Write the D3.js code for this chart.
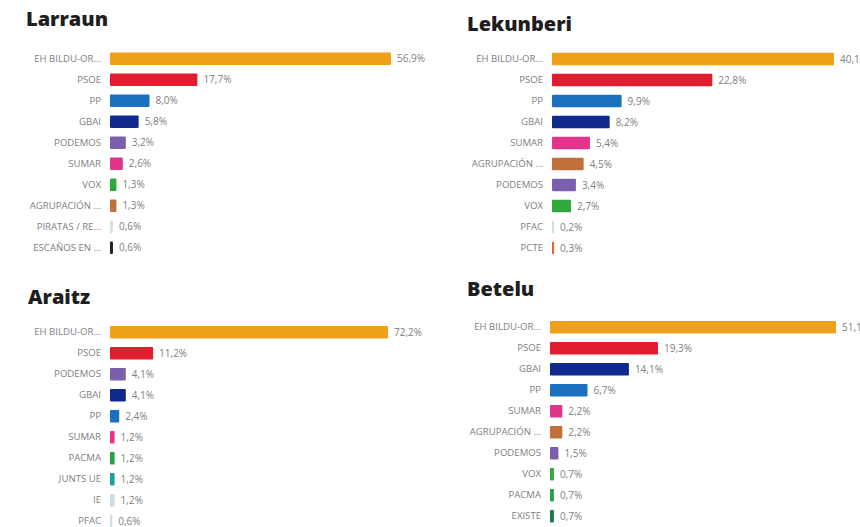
<!DOCTYPE html>
<html>
<head>
<meta charset="utf-8">
<script src="https://cdn.jsdelivr.net/npm/d3@7"></script>
<style>
  html, body { margin: 0; padding: 0; background: #fff; }
  svg { display: block; }
  .title { font-family: "Open Sans", sans-serif; font-weight: 800; font-size: 20px; fill: #1e1e1e; }
  .lab { font-family: "Open Sans", sans-serif; font-size: 9.6px; fill: #808080; }
  .val { font-family: "Open Sans", sans-serif; font-size: 10px; fill: #808080; }
</style>
</head>
<body>
<div id="chart"></div>
<script>
// ---- Data ----
const larraunParties = ["EH BILDU-OR...", "PSOE", "PP", "GBAI", "PODEMOS", "SUMAR", "VOX", "AGRUPACIÓN ...", "PIRATAS / RE...", "ESCAÑOS EN ..."];
const larraunValues  = [56.9, 17.7, 8.0, 5.8, 3.2, 2.6, 1.3, 1.3, 0.6, 0.6];

const lekunberiParties = ["EH BILDU-OR...", "PSOE", "PP", "GBAI", "SUMAR", "AGRUPACIÓN ...", "PODEMOS", "VOX", "PFAC", "PCTE"];
const lekunberiValues  = [40.1, 22.8, 9.9, 8.2, 5.4, 4.5, 3.4, 2.7, 0.2, 0.3];

const araitzParties = ["EH BILDU-OR...", "PSOE", "PODEMOS", "GBAI", "PP", "SUMAR", "PACMA", "JUNTS UE", "IE", "PFAC"];
const araitzValues  = [72.2, 11.2, 4.1, 4.1, 2.4, 1.2, 1.2, 1.2, 1.2, 0.6];

const beteluParties = ["EH BILDU-OR...", "PSOE", "GBAI", "PP", "SUMAR", "AGRUPACIÓN ...", "PODEMOS", "VOX", "PACMA", "EXISTE"];
const beteluValues  = [51.1, 19.3, 14.1, 6.7, 2.2, 2.2, 1.5, 0.7, 0.7, 0.7];

const titles = ["Larraun", "Lekunberi", "Araitz", "Betelu"];

// ---- Styles ----
const partyColors = {
  "EH BILDU-OR...": "#f0a11c",
  "PSOE": "#e11d30",
  "PP": "#1b70c0",
  "GBAI": "#0f2a8c",
  "PODEMOS": "#7b5eac",
  "SUMAR": "#e3348c",
  "VOX": "#2fa83c",
  "AGRUPACIÓN ...": "#c0703a",
  "PIRATAS / RE...": "#d3e3e8",
  "ESCAÑOS EN ...": "#222222",
  "PFAC": "#cfdfe6",
  "PCTE": "#e8603a",
  "PACMA": "#26a04a",
  "JUNTS UE": "#17a39c",
  "IE": "#c9dde2",
  "EXISTE": "#1c7a48"
};

// ---- Layout ----
const panels = [
  { title: titles[0], parties: larraunParties,   values: larraunValues,   titleX: 26,  titleY: 26,  x0: 110, y0: 48.2,  barMax: 281 },
  { title: titles[1], parties: lekunberiParties, values: lekunberiValues, titleX: 467, titleY: 31,  x0: 552, y0: 48.5,  barMax: 282 },
  { title: titles[2], parties: araitzParties,    values: araitzValues,    titleX: 28,  titleY: 304, x0: 110, y0: 321.8, barMax: 278 },
  { title: titles[3], parties: beteluParties,    values: beteluValues,    titleX: 467, titleY: 296, x0: 550, y0: 316.8, barMax: 286 }
];

const W = 860, H = 527, step = 21;
const svg = d3.select("#chart").append("svg").attr("width", W).attr("height", H);
const fmt = v => d3.format(".1f")(v).replace(".", ",") + "%";

panels.forEach(p => {
  const g = svg.append("g");
  g.append("text").attr("class", "title").attr("x", p.titleX).attr("y", p.titleY).text(p.title);

  const x = d3.scaleLinear().domain([0, d3.max(p.values)]).range([p.x0, p.x0 + p.barMax]);
  const y = d3.scaleBand().domain(p.parties)
    .range([p.y0, p.y0 + p.parties.length * step])
    .paddingInner(0.4).paddingOuter(0.2);

  const axis = d3.axisLeft(y).tickSize(0).tickPadding(9);
  const ag = g.append("g").attr("transform", `translate(${p.x0},0)`).call(axis);
  ag.select(".domain").remove();
  ag.selectAll("text").attr("class", "lab").attr("font-family", null).attr("font-size", null).attr("fill", null);

  const data = p.parties.map((name, i) => ({ name, value: p.values[i] }));

  g.selectAll("rect.bar").data(data).join("rect")
    .attr("class", "bar")
    .attr("x", x(0))
    .attr("y", d => y(d.name))
    .attr("width", d => Math.max(2, x(d.value) - x(0)))
    .attr("height", y.bandwidth())
    .attr("rx", 1)
    .attr("fill", d => partyColors[d.name]);

  g.selectAll("text.val").data(data).join("text")
    .attr("class", "val")
    .attr("x", d => Math.max(x(0) + 2, x(d.value)) + 6)
    .attr("y", d => y(d.name) + y.bandwidth() / 2)
    .attr("dy", "0.35em")
    .text(d => fmt(d.value));
});
</script>
</body>
</html>
